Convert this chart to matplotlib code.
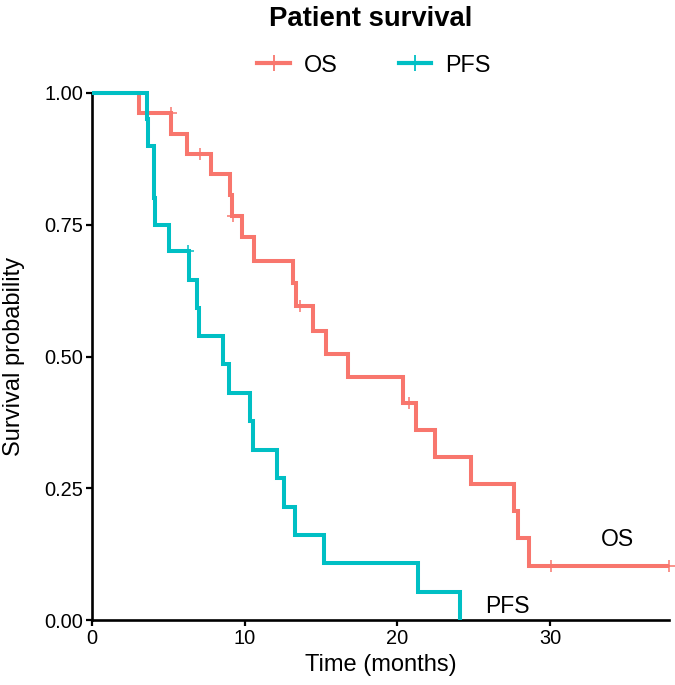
import numpy as np
import matplotlib
matplotlib.use('Agg')
import matplotlib.pyplot as plt
from matplotlib.lines import Line2D

plt.rcParams['font.family'] = ['Liberation Sans', 'DejaVu Sans']

# Kaplan-Meier steps (months, survival probability)
os_time = [0, 3.1, 5.2, 6.2, 7.8, 9.05, 9.15, 9.85, 10.6, 13.2, 13.35, 14.45,
           15.35, 16.8, 20.35, 21.25, 22.5, 24.8, 27.65, 27.9, 28.6, 37.8]
os_surv = [1.0, 0.962, 0.923, 0.885, 0.846, 0.806, 0.766, 0.727, 0.681, 0.639,
           0.596, 0.548, 0.505, 0.461, 0.412, 0.361, 0.309, 0.258, 0.206, 0.155,
           0.103, 0.103]
os_cens_time = [5.15, 7.05, 9.25, 13.65, 20.75, 30.05, 37.8]
os_cens_surv = [0.962, 0.885, 0.766, 0.596, 0.412, 0.103, 0.103]

pfs_time = [0, 3.6, 3.7, 4.05, 4.15, 5.05, 6.38, 6.9, 7.0, 8.55, 9.0, 10.35,
            10.55, 12.1, 12.6, 13.3, 15.2, 21.35, 24.1]
pfs_surv = [1.0, 0.95, 0.90, 0.80, 0.75, 0.70, 0.646, 0.592, 0.538, 0.485,
            0.431, 0.377, 0.323, 0.269, 0.215, 0.162, 0.108, 0.054, 0.0]
pfs_cens_time = [6.27]
pfs_cens_surv = [0.70]

os_col = '#F8766D'
pfs_col = '#00BFC4'

fig = plt.figure(figsize=(6.75, 6.85), dpi=100)
ax = fig.add_axes([92 / 675, 65 / 685, 577 / 675, 527 / 685])

for t, s, c in [(os_time, os_surv, os_col), (pfs_time, pfs_surv, pfs_col)]:
    ax.step(t, s, where='post', color=c, lw=2.9, clip_on=False,
            solid_joinstyle='miter', solid_capstyle='butt', zorder=3)
ax.plot(os_cens_time, os_cens_surv, ls='none', marker='+', ms=8.5, mew=1.1,
        color=os_col, clip_on=False, zorder=4)
ax.plot(pfs_cens_time, pfs_cens_surv, ls='none', marker='+', ms=8.5, mew=1.1,
        color=pfs_col, clip_on=False, zorder=4)

ax.text(34.4, 0.152, 'OS', fontsize=16.5, ha='center', va='center')
ax.text(27.2, 0.025, 'PFS', fontsize=16.5, ha='center', va='center')

ax.set_xlim(0, 37.8)
ax.set_ylim(0, 1)
ax.set_xticks([0, 10, 20, 30])
ax.set_yticks([0, 0.25, 0.5, 0.75, 1.0])
ax.set_yticklabels(['0.00', '0.25', '0.50', '0.75', '1.00'])
ax.tick_params(labelsize=14.4, width=1.6, length=4.5, color='black', pad=2)
for side in ['top', 'right']:
    ax.spines[side].set_visible(False)
for side in ['left', 'bottom']:
    ax.spines[side].set_linewidth(1.9)
ax.set_xlabel('Time (months)', fontsize=17, labelpad=4)
ax.set_ylabel('Survival probability', fontsize=17, va='center')
ax.yaxis.set_label_coords((14 - 92) / 577, 0.5)

fig.text(371 / 675, 1 - 19 / 685, 'Patient survival', fontsize=19.8,
         fontweight='bold', ha='center', va='center')

handles = [Line2D([], [], color=os_col, lw=3, marker='+', ms=12, mew=1.3),
           Line2D([], [], color=pfs_col, lw=3, marker='+', ms=12, mew=1.3)]
fig.legend(handles, ['OS', 'PFS'], loc='center', ncol=2, frameon=False,
           bbox_to_anchor=(374 / 675, 1 - 65 / 685), fontsize=16.8,
           handlelength=1.4, handletextpad=0.6, columnspacing=2.6)

fig.savefig('out.png', dpi=100)
